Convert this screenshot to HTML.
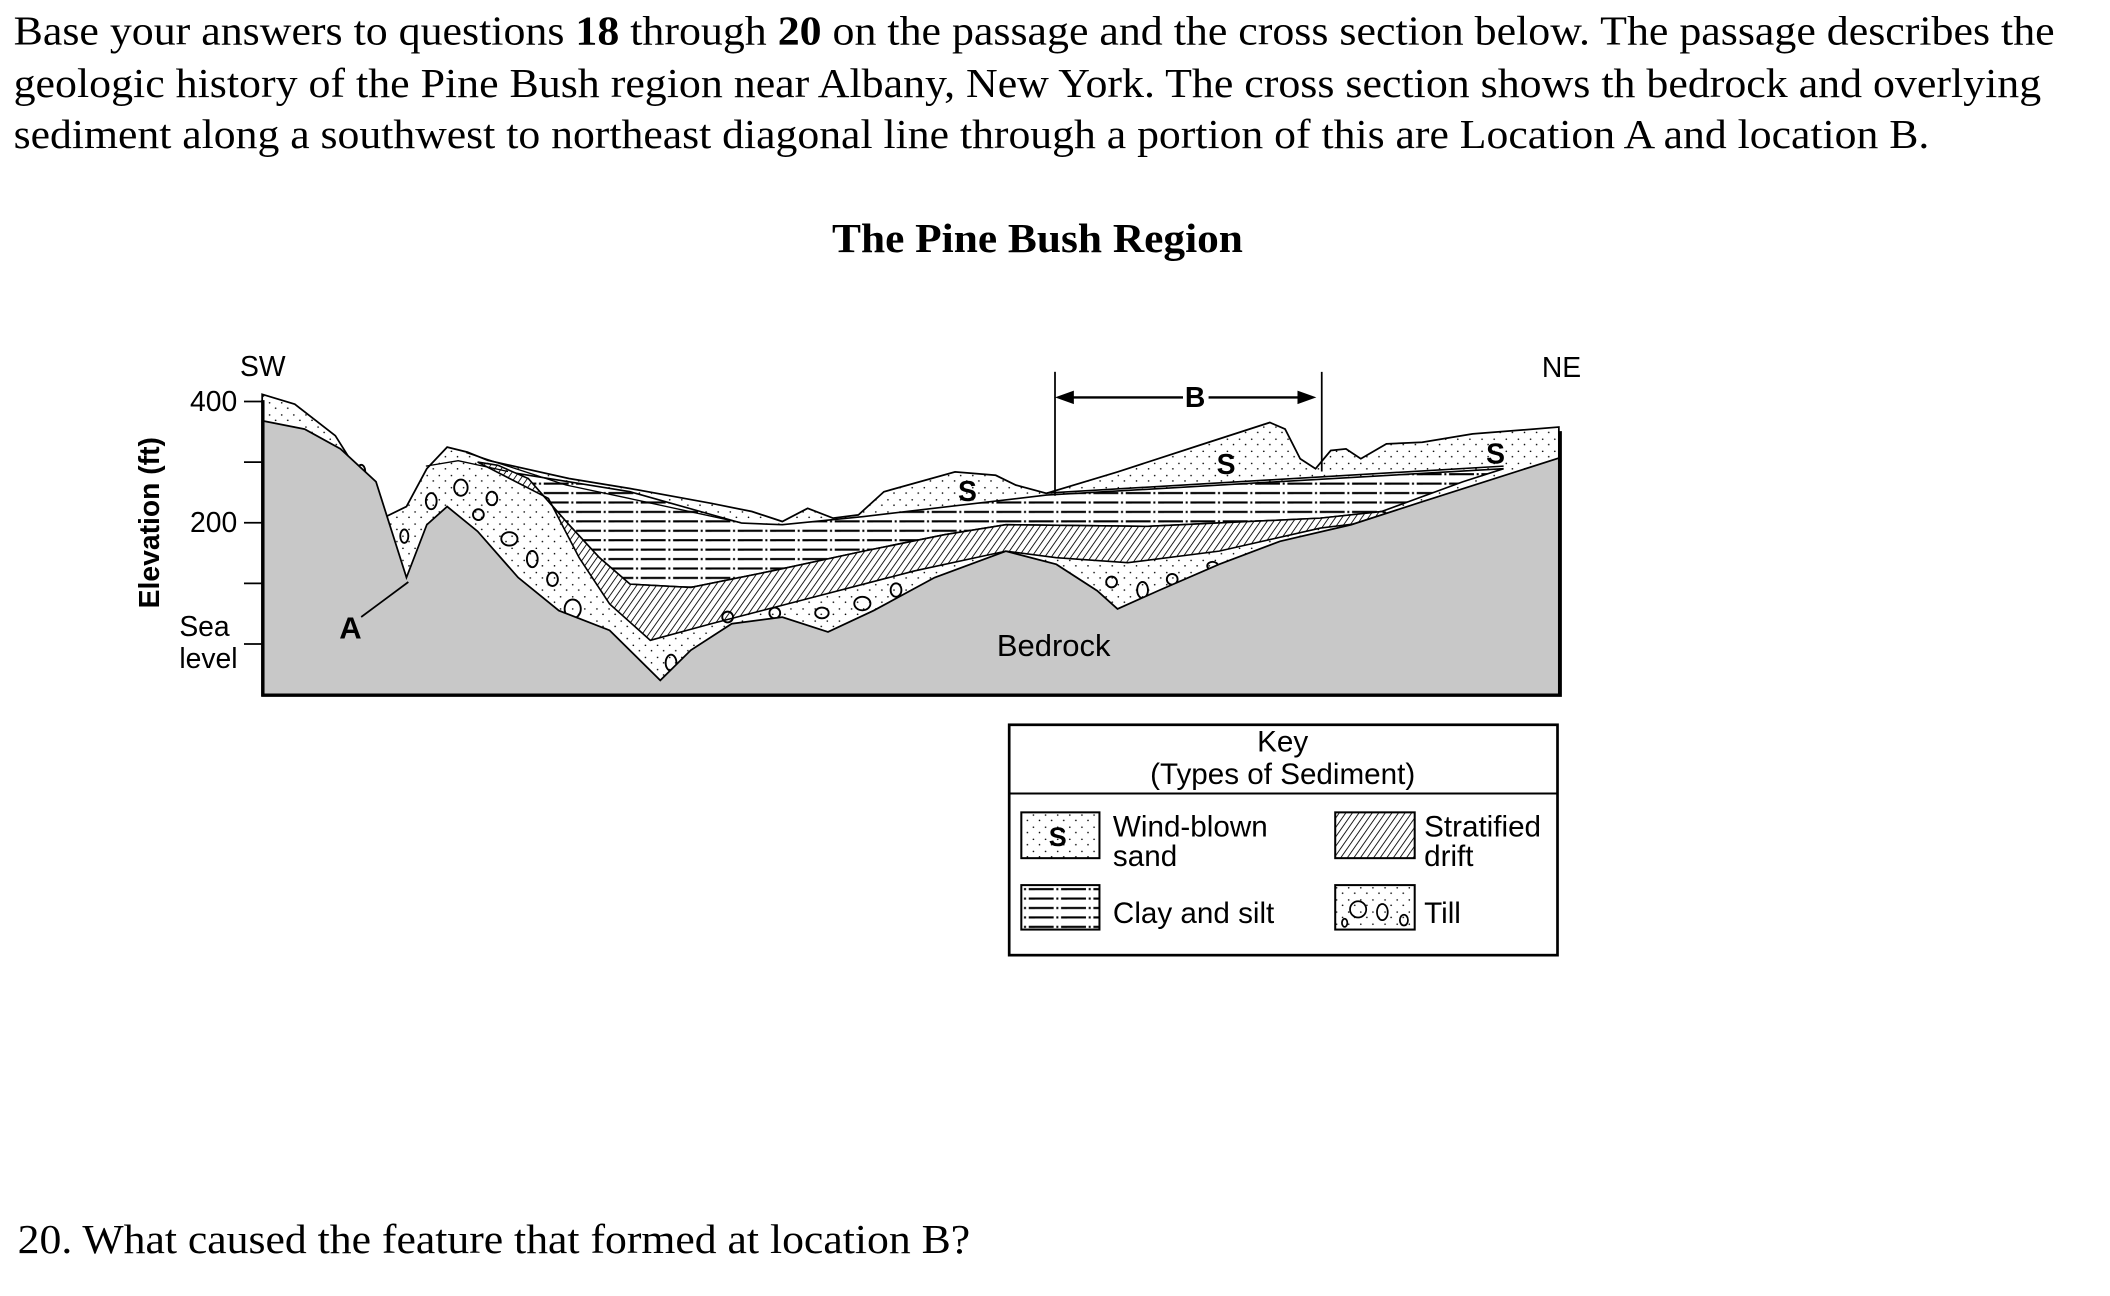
<!DOCTYPE html>
<html><head><meta charset="utf-8"><style>
html,body{margin:0;padding:0;background:#fff;}
svg{display:block;}
.s{font-family:"Liberation Serif",serif;}
.a{font-family:"Liberation Sans",sans-serif;}
</style></head><body>
<svg width="2110" height="1296" viewBox="0 0 1566 962" xmlns="http://www.w3.org/2000/svg">
<defs>
<pattern id="dots" width="9" height="9" patternUnits="userSpaceOnUse">
<rect width="9" height="9" fill="#fff"/><circle cx="2" cy="2" r="0.6" fill="#000"/><circle cx="6.5" cy="6" r="0.6" fill="#000"/>
</pattern>
<pattern id="clay" width="24" height="7" patternUnits="userSpaceOnUse">
<rect width="24" height="7" fill="#fff"/><line x1="0" y1="2" x2="14" y2="2" stroke="#000" stroke-width="1.6"/><line x1="16" y1="2" x2="17.5" y2="2" stroke="#000" stroke-width="1.6"/><line x1="19.5" y1="2" x2="24" y2="2" stroke="#000" stroke-width="1.6"/>
</pattern>
<pattern id="hatch" width="4" height="4" patternUnits="userSpaceOnUse" patternTransform="rotate(35)">
<rect width="4" height="4" fill="#fff"/><line x1="0" y1="0" x2="0" y2="4" stroke="#000" stroke-width="1.3"/>
</pattern>
</defs>

<text class="s" x="10" y="33" font-size="31" textLength="1515" lengthAdjust="spacingAndGlyphs">Base your answers to questions <tspan font-weight="bold">18</tspan> through <tspan font-weight="bold">20</tspan> on the passage and the cross section below. The passage describes the</text>
<text class="s" x="10" y="72" font-size="31" textLength="1505" lengthAdjust="spacingAndGlyphs">geologic history of the Pine Bush region near Albany, New York. The cross section shows th bedrock and overlying</text>
<text class="s" x="10" y="110" font-size="31" textLength="1422" lengthAdjust="spacingAndGlyphs">sediment along a southwest to northeast diagonal line through a portion of this are Location A and location B.</text>
<text class="s" x="770" y="187" font-size="31" font-weight="bold" text-anchor="middle" textLength="305" lengthAdjust="spacingAndGlyphs">The Pine Bush Region</text>

<path d="M194.5,292.7 L218.7,300 L248.8,323.4 L286.5,383.4 L301.6,376 L316.7,347.9 L331.8,331.9 L346.8,335.6 L361.9,341.7 L422.2,355.2 L467.5,362.6 L527.8,373.6 L558,379.7 L580.6,387.1 L599.4,377.3 L618.3,384.6 L637.1,382.2 L656,365 L708.8,350.3 L739,352.8 L754,360.1 L776.6,366.2 L829.4,350.3 L889.7,330.7 L942.5,313.6 L953.8,318.5 L965,340.5 L976.4,347.9 L987.7,334.4 L999,333.2 L1010,340.5 L1029,329.5 L1055.6,328.3 L1093,322.1 L1157,317 L1157,516 L194.5,516 Z" fill="url(#dots)" stroke="#000" stroke-width="1.3"/>
<path d="M377,350.3 L467.5,365 L550.4,388.3 L580.6,389.5 L641,383.4 L776.6,367.5 L1116,347.9 L1085.8,357.6 L1025.4,379.7 L980,384.6 L852,390.7 L746.5,389.5 L701,396.9 L641,409.1 L573,423.8 L512.7,436 L467.5,433.6 L444.9,414 L422.2,389.5 L392,355.2 Z" fill="url(#clay)" stroke="#000" stroke-width="1.2"/>
<path d="M354.4,343 L369.5,345.4 L392,355.2 L422.2,389.5 L444.9,414 L467.5,433.6 L512.7,436 L573,423.8 L641,409.1 L701,396.9 L746.5,389.5 L852,390.7 L980,384.6 L1025.4,379.7 L1029,380.9 L1010,388.3 L980,392 L904.8,409.1 L837,417.7 L784,414 L746.5,409.1 L678.6,423.8 L603.2,443.4 L527.8,463 L482.6,475.3 L452.4,448.3 L429.8,414 L407,370 Z" fill="url(#hatch)" stroke="#000" stroke-width="1.2"/>
<path d="M777,366 L1116,346" stroke="#000" stroke-width="1.2" fill="none"/>
<path d="M316,346 L340,342 L377,350 M346,336 L420,360 L467,370 L550,388" stroke="#000" stroke-width="1" fill="none"/>
<g fill="none" stroke="#000" stroke-width="1.4">
<ellipse cx="320" cy="372" rx="4" ry="6"/><ellipse cx="342" cy="362" rx="5" ry="6"/><ellipse cx="365" cy="370" rx="4" ry="5"/><ellipse cx="378" cy="400" rx="6" ry="5"/><ellipse cx="395" cy="415" rx="4" ry="6"/><ellipse cx="410" cy="430" rx="4" ry="5"/><ellipse cx="425" cy="452" rx="6" ry="7"/><ellipse cx="355" cy="382" rx="4" ry="4"/><ellipse cx="300" cy="398" rx="3" ry="5"/><ellipse cx="268" cy="350" rx="3" ry="5"/><ellipse cx="498" cy="492" rx="4" ry="6"/><ellipse cx="540" cy="458" rx="4" ry="4"/><ellipse cx="575" cy="455" rx="4" ry="4"/><ellipse cx="610" cy="455" rx="5" ry="4"/><ellipse cx="640" cy="448" rx="6" ry="5"/><ellipse cx="665" cy="438" rx="4" ry="5"/><ellipse cx="825" cy="432" rx="4" ry="4"/><ellipse cx="848" cy="438" rx="4" ry="6"/><ellipse cx="870" cy="430" rx="4" ry="4"/><ellipse cx="900" cy="420" rx="4" ry="3"/>
</g>
<path d="M194.5,312.3 L226,318.5 L252.6,333.2 L279,357.6 L301.6,428.7 L316.7,389.5 L331.8,376 L354.4,394.4 L384.5,428.7 L414.7,453.2 L452.4,467.9 L490,505 L512.7,482.6 L543,463 L580.6,458.1 L614.5,469.1 L648.4,453.2 L693.7,428.7 L746.5,409.1 L784,418.9 L814.3,438.5 L829.4,452 L859.6,438.5 L904.8,418.9 L950,401.8 L1002.8,389.5 L1055.6,372.4 L1157,340 L1157,516 L194.5,516 Z" fill="#c8c8c8" stroke="#000" stroke-width="1.3"/>
<path d="M195,297 L195,516 L1158,516 L1158,320" fill="none" stroke="#000" stroke-width="2.5"/>
<g stroke="#000" stroke-width="1.3">
<line x1="181" y1="298" x2="195" y2="298"/><line x1="181" y1="343" x2="195" y2="343"/><line x1="181" y1="388" x2="195" y2="388"/><line x1="181" y1="433" x2="195" y2="433"/><line x1="181" y1="478" x2="195" y2="478"/>
<line x1="268" y1="458" x2="303" y2="432"/>
<line x1="783" y1="276" x2="783" y2="368"/><line x1="981" y1="276" x2="981" y2="350"/>
<line x1="790" y1="295" x2="878" y2="295" stroke-width="1.8"/><line x1="897" y1="295" x2="970" y2="295" stroke-width="1.8"/>
</g>
<path d="M783,295 L797,290 L797,300 Z M977,295 L963,290 L963,300 Z" fill="#000"/>
<g class="a" font-size="21">
<text x="176" y="305" text-anchor="end">400</text>
<text x="176" y="395" text-anchor="end">200</text>
<text x="133" y="472">Sea</text>
<text x="133" y="496">level</text>
<text x="195" y="279" text-anchor="middle">SW</text>
<text x="1159" y="280" text-anchor="middle">NE</text>
<text x="782" y="487" text-anchor="middle" font-size="23">Bedrock</text>
<text x="260" y="474" text-anchor="middle" font-weight="bold" font-size="23">A</text>
<text x="887" y="302" text-anchor="middle" font-weight="bold">B</text>
<text x="718" y="372" text-anchor="middle" font-weight="bold">S</text>
<text x="910" y="352" text-anchor="middle" font-weight="bold">S</text>
<text x="1110" y="344" text-anchor="middle" font-weight="bold">S</text>
<text transform="translate(118,388) rotate(-90)" text-anchor="middle" font-weight="bold" font-size="21">Elevation (ft)</text>
</g>

<rect x="749" y="538" width="407" height="171" fill="#fff" stroke="#000" stroke-width="2"/>
<line x1="749" y1="589" x2="1156" y2="589" stroke="#000" stroke-width="1.5"/>
<rect x="758" y="603" width="58" height="34" fill="url(#dots)" stroke="#000" stroke-width="1.5"/>
<rect x="991" y="603" width="59" height="34" fill="url(#hatch)" stroke="#000" stroke-width="1.5"/>
<rect x="758" y="657" width="58" height="33" fill="url(#clay)" stroke="#000" stroke-width="1.5"/>
<rect x="991" y="657" width="59" height="33" fill="url(#dots)" stroke="#000" stroke-width="1.5"/>
<g fill="none" stroke="#000" stroke-width="1.3"><ellipse cx="1008" cy="675" rx="6" ry="6"/><ellipse cx="1026" cy="677" rx="4" ry="6"/><ellipse cx="1042" cy="683" rx="3" ry="4"/><ellipse cx="998" cy="685" rx="2" ry="3"/></g>
<g class="a" font-size="22">
<text x="952" y="558" text-anchor="middle">Key</text>
<text x="952" y="582" text-anchor="middle">(Types of Sediment)</text>
<text x="785" y="628" text-anchor="middle" font-weight="bold" font-size="20">S</text>
<text x="826" y="621">Wind-blown</text>
<text x="826" y="643">sand</text>
<text x="1057" y="621">Stratified</text>
<text x="1057" y="643">drift</text>
<text x="826" y="685">Clay and silt</text>
<text x="1057" y="685">Till</text>
</g>

<text class="s" x="13" y="930" font-size="31" textLength="707" lengthAdjust="spacingAndGlyphs">20. What caused the feature that formed at location B?</text>
</svg>
</body></html>
